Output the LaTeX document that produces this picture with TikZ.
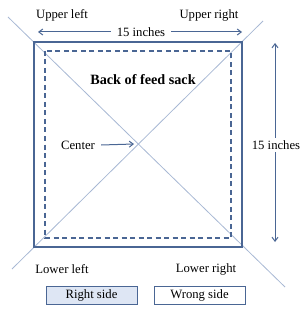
\documentclass[tikz,border=0pt]{standalone}
\usepackage{fontspec}
\setmainfont{Liberation Serif}
\usetikzlibrary{arrows.meta}
\definecolor{sackblue}{RGB}{74,102,148}
\definecolor{diagblue}{RGB}{168,184,212}
\definecolor{sidefill}{RGB}{222,230,244}

\begin{document}
\begin{tikzpicture}[
    x=1pt, y=-1pt,
    >={Straight Barb[length=4pt,width=6pt]},
    txt/.style={font=\fontsize{12.7}{15}\selectfont, inner sep=1pt},
    dim/.style={txt, fill=white, inner xsep=6pt, inner ysep=3pt},
    outer/.style={draw=sackblue, line width=1.7pt},
    seam/.style={draw=sackblue, line width=1.1pt, dash pattern=on 5pt off 3.5pt},
    diag/.style={draw=diagblue, line width=0.8pt},
    arr/.style={->, draw=sackblue, line width=1pt},
    key/.style={txt, draw=sackblue, line width=1pt, minimum width=91pt, minimum height=18pt}
]
    \useasboundingbox (0,0) rectangle (300,315);
    % diagonals
    \coordinate (ul) at (8,17);
    \coordinate (lr) at (285,287);
    \coordinate (ur) at (263,21);
    \coordinate (ll) at (12,269);
    \draw[diag] (ul) -- (lr);
    \draw[diag] (ur) -- (ll);
    % sack and seam
    \draw[outer] (34,42) rectangle (242,247);
    \draw[seam] (45,51) rectangle (231,238);
    \node[txt, font=\fontsize{14.2}{16}\selectfont\bfseries] (title) at (143,80) {Back of feed sack};
    % corner labels
    \node[txt] (upleft) at (62,15) {Upper left};
    \node[txt] (upright) at (209,15) {Upper right};
    \node[txt] (lowleft) at (62,269) {Lower left};
    \node[txt] (lowright) at (206,269) {Lower right};
    % center
    \coordinate (mid) at (134,144);
    \node[txt] (center) at (78,145) {Center};
    \draw[arr] (center.east) ++(5,0) -- (mid);
    % dimensions
    \coordinate (wl) at (38,32);
    \coordinate (wr) at (242,32);
    \draw[arr, <->] (wl) -- (wr);
    \node[dim] (width) at (141,32) {15 inches};
    \coordinate (ht) at (275,43);
    \coordinate (hb) at (275,242);
    \draw[arr, <->] (ht) -- (hb);
    \node[dim] (height) at (276,145) {15 inches};
    % key
    \node[key, fill=sidefill] (right) at (91.5,295) {Right side};
    \node[key] (wrong) at (199.5,295) {Wrong side};
\end{tikzpicture}
\end{document}
